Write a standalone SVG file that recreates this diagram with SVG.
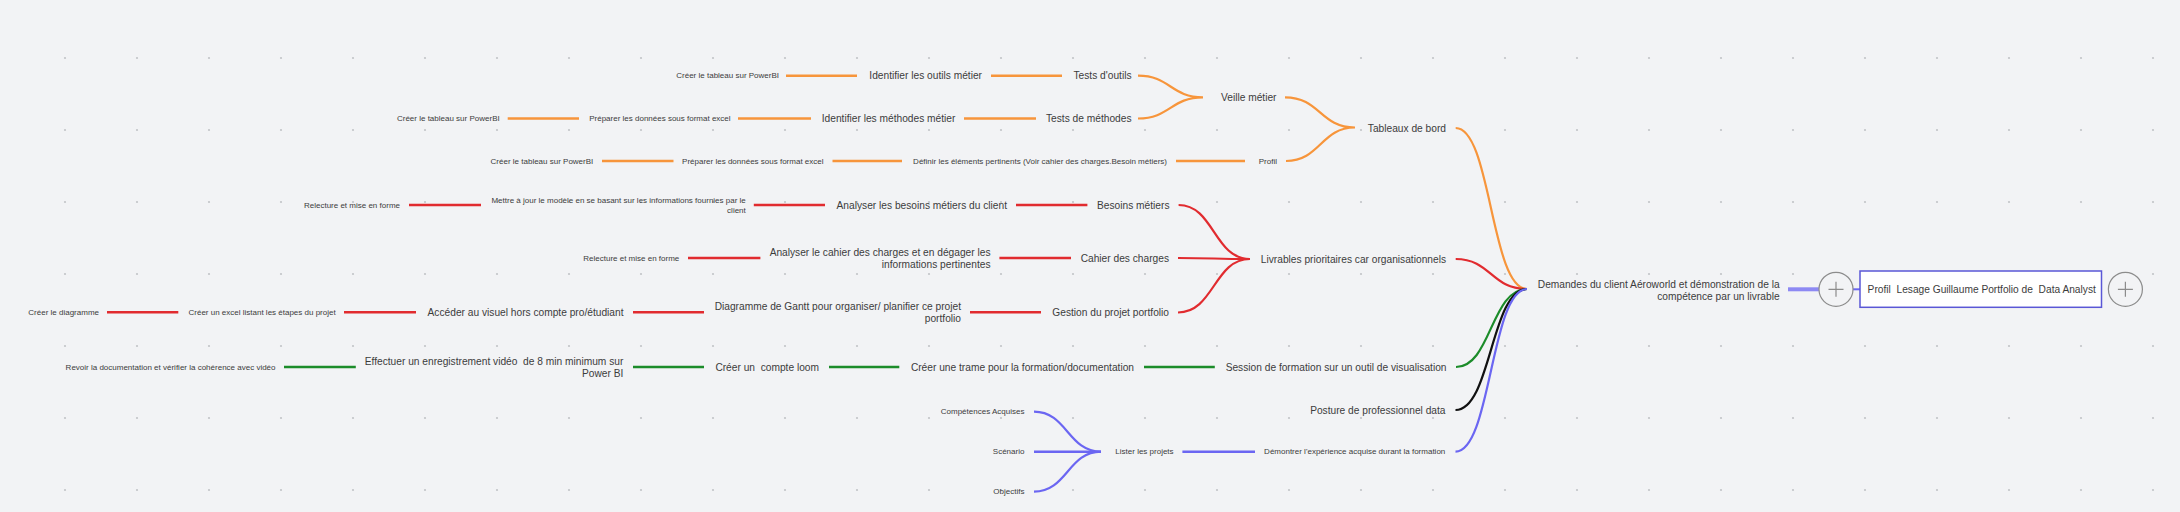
<svg xmlns="http://www.w3.org/2000/svg" width="2180" height="512" viewBox="0 0 2180 512">
<defs>
<pattern id="dots" x="29" y="22" width="72" height="72" patternUnits="userSpaceOnUse"><circle cx="36" cy="36" r="1.1" fill="#c2c4c8"/></pattern>
<style>
text{font-family:"Liberation Sans",Arial,sans-serif;fill:#3c3c3c;dominant-baseline:central;white-space:pre}
.m{font-size:10.2px}
.s{font-size:8px}
.e{text-anchor:end}
.l{fill:none;stroke-width:2.5}
.c{fill:none;stroke-width:2.2}
.or{stroke:#F7953B}
.rd{stroke:#E12B2F}
.gr{stroke:#1C8C2A}
.bk{stroke:#111111}
.bl{stroke:#6B66F2}
.plus{fill:#f2f3f5;stroke:#8c8c8c;stroke-width:1.2}
.pl{stroke:#8c8c8c;stroke-width:1.2}
</style>
</defs>
<rect width="2180" height="512" fill="#f2f3f5"/>
<rect width="2180" height="512" fill="url(#dots)"/>

<g id="connectors">
<path class="l or" d="M786 75.7H857M991 75.7H1062M507.7 118.5H579M738 118.5H811M964 118.5H1036M602 161H673.5M832.5 161H902M1176 161H1245"/>
<path class="c or" d="M1138 75.7C1170 75.7 1171 97.3 1203 97.3M1138 118.5C1170 118.5 1171 97.3 1203 97.3M1285 97.3C1320 97.3 1320 127.5 1355 127.5M1286 161C1320 161 1321 127.5 1355 127.5M1455.7 128C1491 128 1491 289 1527 289"/>
<path class="l rd" d="M409 205H481M753.8 205H825M1016 205H1087.4M688 258H760.4M999.4 258H1071M107 312.3H178.3M344 312.3H416M633 312.3H704M970 312.3H1041"/>
<path class="c rd" d="M1178.6 205C1214 205 1214 259 1250 259M1178 258C1214 258 1214 259 1250 259M1178 312.5C1214 312.5 1214 259 1250 259M1455.7 259C1491 259 1491 289 1527 289"/>
<path class="l gr" d="M284 367H355.8M633 367H704M829 367H899.3M1144 367H1214.8"/>
<path class="c gr" d="M1456 367C1491 367 1491 289 1527 289"/>
<path class="c bk" d="M1455.5 410C1491 410 1491 289 1527 289"/>
<path class="l bl" d="M1034 451.7H1101M1182.4 451.7H1255"/>
<path class="c bl" d="M1034 411.7C1067 411.7 1068 451.7 1101 451.7M1034 491.7C1067 491.7 1068 451.7 1101 451.7M1455.5 451.7C1491 451.7 1491 289 1527 289"/>
<path d="M1788 289.3H1819" stroke="#8D89F3" stroke-width="4" fill="none"/>
<path d="M1853 289.3H1860" stroke="#6B66F2" stroke-width="2" fill="none"/>
</g>

<g id="n-o1"><text class="s e" x="779" y="75.7">Créer le tableau sur PowerBI</text></g>
<g id="n-o2"><text class="m e" x="982" y="75.7">Identifier les outils métier</text></g>
<g id="n-o3"><text class="m e" x="1131.5" y="75.7">Tests d'outils</text></g>
<g id="n-o4"><text class="m e" x="1276.5" y="97.3">Veille métier</text></g>
<g id="n-o5"><text class="s e" x="499.7" y="118.5">Créer le tableau sur PowerBI</text></g>
<g id="n-o6"><text class="s e" x="730.6" y="118.5">Préparer les données sous format excel</text></g>
<g id="n-o7"><text class="m e" x="955.4" y="118.5">Identifier les méthodes métier</text></g>
<g id="n-o8"><text class="m e" x="1131.5" y="118.5">Tests de méthodes</text></g>
<g id="n-o9"><text class="s e" x="593.3" y="161">Créer le tableau sur PowerBI</text></g>
<g id="n-o10"><text class="s e" x="823.5" y="161">Préparer les données sous format excel</text></g>
<g id="n-o11"><text class="s e" x="1167" y="161">Définir les éléments pertinents (Voir cahier des charges.Besoin métiers)</text></g>
<g id="n-o12"><text class="s e" x="1277" y="161">Profil</text></g>
<g id="n-o13"><text class="m e" x="1446" y="128">Tableaux de bord</text></g>

<g id="n-r1"><text class="s e" x="400" y="205">Relecture et mise en forme</text></g>
<g id="n-r2"><text class="s e" x="745.8" y="200.3">Mettre à jour le modèle en se basant sur les informations fournies par le<tspan x="745.8" dy="9.6">client</tspan></text></g>
<g id="n-r3"><text class="m e" x="1007" y="205">Analyser les besoins métiers du client</text></g>
<g id="n-r4"><text class="m e" x="1169.5" y="205">Besoins métiers</text></g>
<g id="n-r5"><text class="s e" x="679.3" y="258">Relecture et mise en forme</text></g>
<g id="n-r6"><text class="m e" x="990.5" y="252.2">Analyser le cahier des charges et en dégager les<tspan x="990.5" dy="11.8">informations pertinentes</tspan></text></g>
<g id="n-r7"><text class="m e" x="1169" y="258">Cahier des charges</text></g>
<g id="n-r8"><text class="m e" x="1446" y="259">Livrables prioritaires car organisationnels</text></g>
<g id="n-r9"><text class="s e" x="99" y="312.3">Créer le diagramme</text></g>
<g id="n-r10"><text class="s e" x="335.7" y="312.3">Créer un excel listant les étapes du projet</text></g>
<g id="n-r11"><text class="m e" x="623.5" y="312.3">Accéder au visuel hors compte pro/étudiant</text></g>
<g id="n-r12"><text class="m e" x="961" y="306.4">Diagramme de Gantt pour organiser/ planifier ce projet<tspan x="961" dy="12">portfolio</tspan></text></g>
<g id="n-r13"><text class="m e" x="1169" y="312.5">Gestion du projet portfolio</text></g>

<g id="n-g1"><text class="s e" x="275.5" y="367">Revoir la documentation et vérifier la cohérence avec vidéo</text></g>
<g id="n-g2"><text class="m e" x="623.3" y="361.2">Effectuer un enregistrement vidéo&#160; de 8 min minimum sur<tspan x="623.3" dy="11.6">Power BI</tspan></text></g>
<g id="n-g3"><text class="m e" x="819" y="367">Créer un&#160; compte loom</text></g>
<g id="n-g4"><text class="m e" x="1134" y="367">Créer une trame pour la formation/documentation</text></g>
<g id="n-g5"><text class="m e" x="1446.5" y="367">Session de formation sur un outil de visualisation</text></g>

<g id="n-k1"><text class="m e" x="1445.5" y="410">Posture de professionnel data</text></g>

<g id="n-b1"><text class="s e" x="1024.4" y="411.7">Compétences Acquises</text></g>
<g id="n-b2"><text class="s e" x="1024.4" y="451.7">Scénario</text></g>
<g id="n-b3"><text class="s e" x="1024.4" y="491.7">Objectifs</text></g>
<g id="n-b4"><text class="s e" x="1173.6" y="451.7">Lister les projets</text></g>
<g id="n-b5"><text class="s e" x="1445.3" y="451.7">Démontrer l'expérience acquise durant la formation</text></g>

<g id="n-hub"><text class="m e" x="1779.6" y="284.3">Demandes du client Aéroworld et démonstration de la<tspan x="1779.6" dy="11.7">compétence par un livrable</tspan></text></g>

<g id="n-plus1"><circle class="plus" cx="1836" cy="289.3" r="17"/><path class="pl" d="M1828.5 289.3H1843.5M1836 281.8V296.8"/></g>
<g id="n-root"><rect x="1860" y="271" width="241.5" height="36.3" fill="#ffffff" stroke="#5A57D6" stroke-width="1.5"/><text class="m" x="1867.6" y="289.3">Profil&#160; Lesage Guillaume Portfolio de&#160; Data Analyst</text></g>
<g id="n-plus2"><circle class="plus" cx="2125.4" cy="289.3" r="17"/><path class="pl" d="M2117.9 289.3H2132.9M2125.4 281.8V296.8"/></g>
</svg>
